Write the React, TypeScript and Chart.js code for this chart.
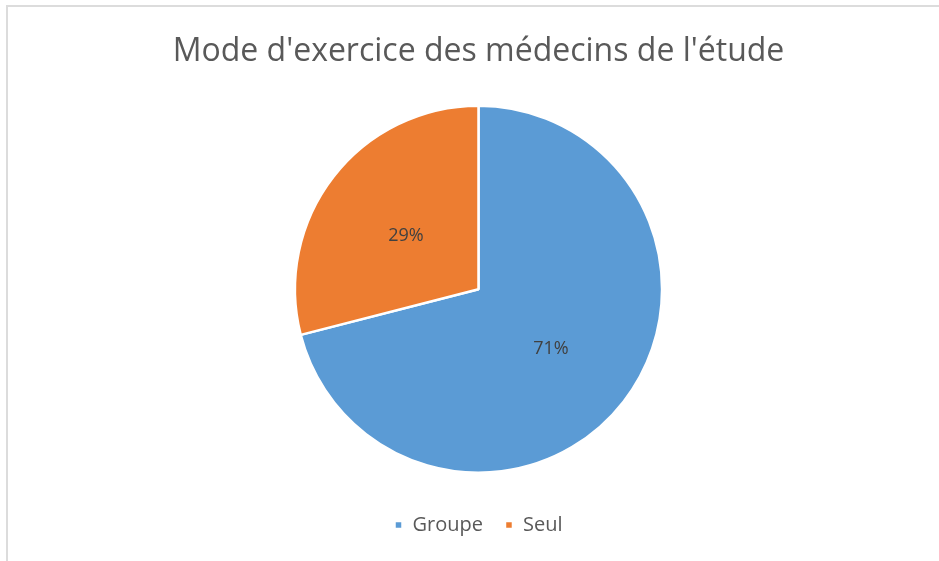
import React, { useEffect, useRef } from "react";
import { Chart, registerables } from "chart.js";

Chart.register(...registerables);

const categories = ["Groupe", "Seul"];
const values = [71, 29];
const colors = ["#5b9bd5", "#ed7d31"];
const titleText = "Mode d'exercice des médecins de l'étude";

const FONT = "'Open Sans', 'Noto Sans', sans-serif";

const labelPlugin = {
  id: "pctLabels",
  afterDatasetsDraw(chart: any) {
    const { ctx } = chart;
    const meta = chart.getDatasetMeta(0);
    const ds = chart.data.datasets[0];
    const total = (ds.data as number[]).reduce((a, b) => a + b, 0);
    ctx.save();
    ctx.font = `18px ${FONT}`;
    ctx.fillStyle = "#404040";
    ctx.textAlign = "center";
    ctx.textBaseline = "middle";
    meta.data.forEach((arc: any, i: number) => {
      const p = arc.tooltipPosition();
      const pct = Math.round(((ds.data[i] as number) / total) * 100);
      ctx.fillText(pct + "%", p.x, p.y + 3);
    });
    ctx.restore();
  },
};

export default function App() {
  const ref = useRef<HTMLCanvasElement>(null);
  useEffect(() => {
    if (!ref.current) return;
    const chart = new Chart(ref.current, {
      type: "pie",
      data: {
        labels: categories,
        datasets: [
          {
            data: values,
            backgroundColor: colors,
            borderColor: "#ffffff",
            borderWidth: 2.5,
          },
        ],
      },
      options: {
        responsive: false,
        animation: false,
        layout: { padding: { top: 0, bottom: 16, left: 18, right: 0 } },
        plugins: {
          title: {
            display: true,
            text: titleText,
            color: "#595959",
            font: { family: FONT, size: 32, weight: "normal" },
            padding: { top: 33, bottom: 33 },
          },
          legend: {
            display: true,
            position: "bottom",
            title: {
              display: true,
              text: " ",
              font: { family: FONT, size: 10 },
              padding: { top: 4, bottom: 3 },
            },
            labels: {
              boxWidth: 8,
              boxHeight: 8,
              color: "#595959",
              font: { family: FONT, size: 20 },
              padding: 22,
            },
          },
          tooltip: { enabled: false },
        },
      },
      plugins: [labelPlugin],
    });
    return () => chart.destroy();
  }, []);
  return (
    <div style={{ position: "fixed", left: 0, top: 0, width: 939, height: 561, background: "#fff" }}>
      <div
        style={{
          position: "absolute",
          left: 6,
          top: 5,
          right: 0,
          bottom: 0,
          borderTop: "2px solid #dcdcdc",
          borderLeft: "2px solid #dcdcdc",
        }}
      />
      <canvas ref={ref} width={939} height={561} style={{ position: "absolute", left: 0, top: 0 }} />
    </div>
  );
}
